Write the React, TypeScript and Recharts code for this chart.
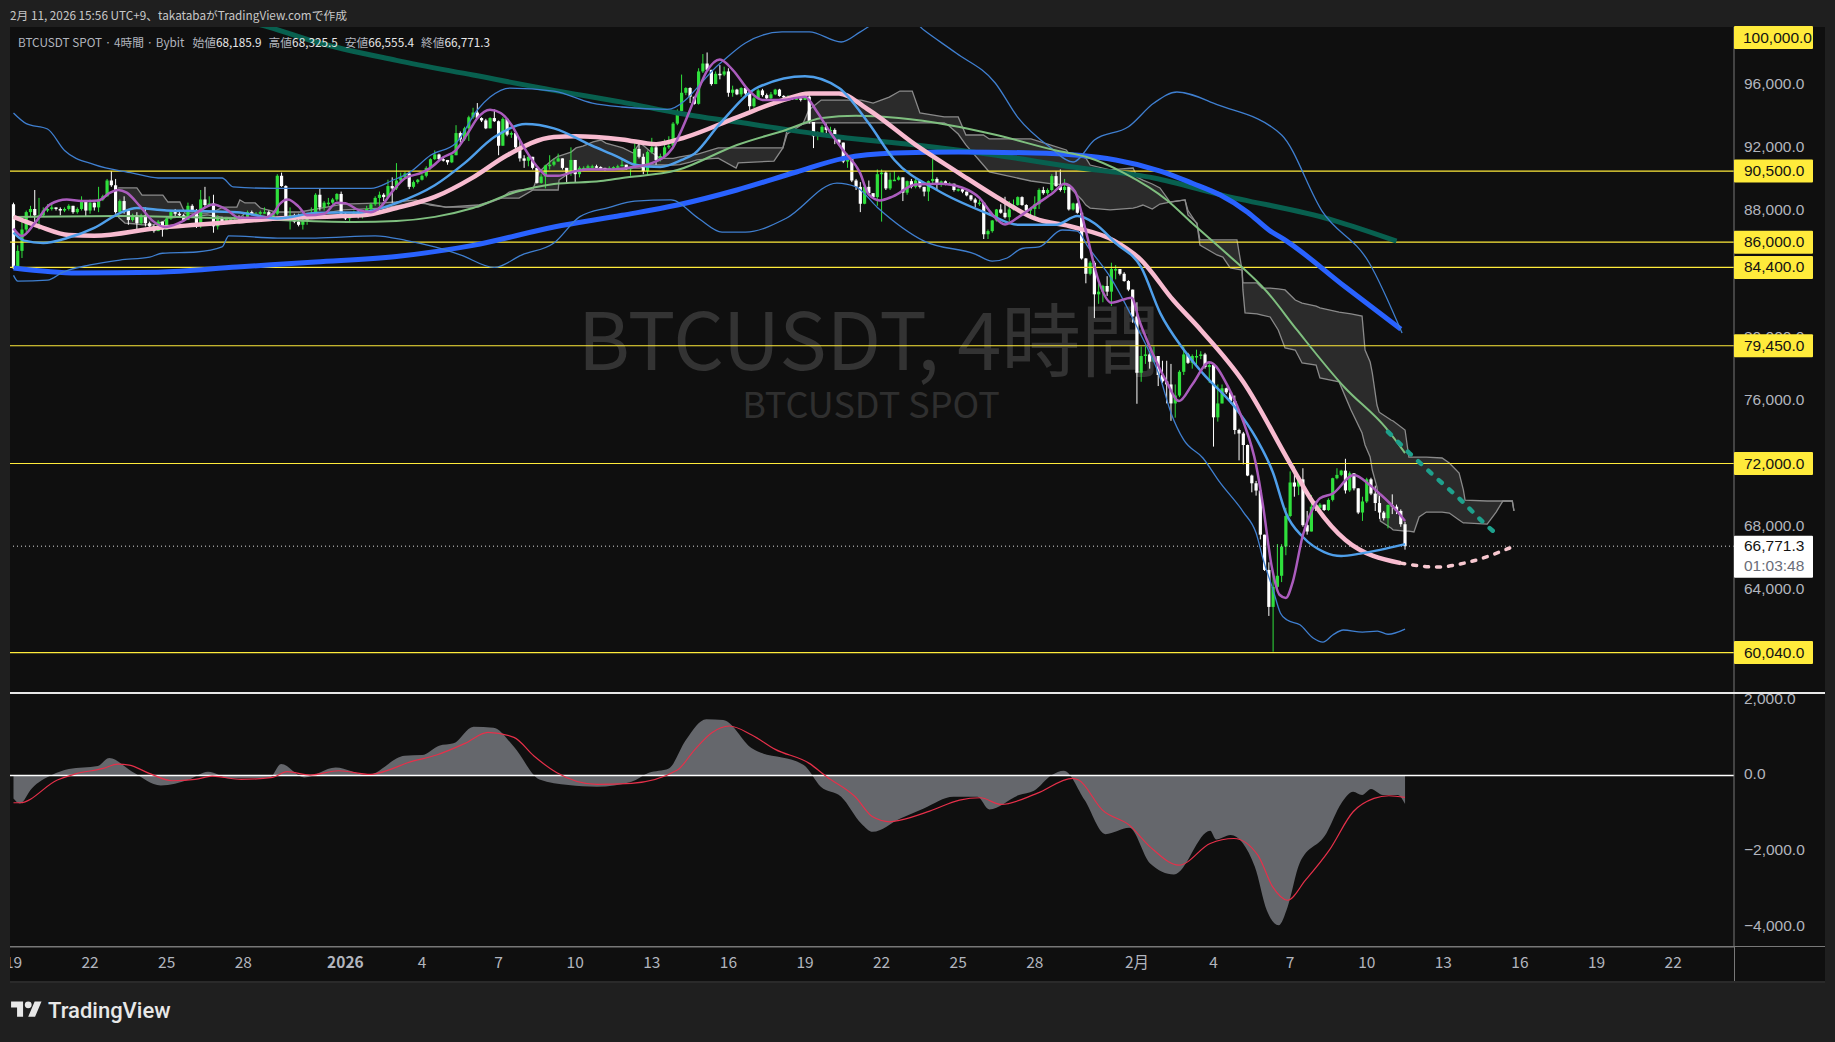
import { Area, Bar, ComposedChart, Line, ReferenceLine, XAxis, YAxis } from 'recharts'

// 4h candles in hundreds of USDT, index 0 = Dec 19 00:00
const candleClose = [
  843.5, 854.5, 868, 879, 881, 877, 877, 880, 881, 882, 881, 880, 881, 883, 879, 881, 886, 880, 885, 882,
  887, 889, 899, 896, 879, 886, 880, 874, 877, 872, 877, 872, 870, 867, 873, 868, 875, 879, 878, 877,
  874, 883, 880, 871, 887, 883.5, 884.5, 870, 875, 873, 875, 875, 876, 875, 876, 879, 878, 878, 879, 879,
  876, 878, 902, 895.5, 875.5, 877, 873, 871, 874, 876, 877, 890, 882, 885, 885, 887, 890.5, 878, 875, 877,
  879, 876, 879, 881, 884, 888, 890, 888.5, 895.5, 894, 899, 901, 903.5, 895, 898, 899.5, 902, 907, 912.5, 915.5,
  912.5, 912, 910.5, 915, 929, 925, 932, 939, 942, 938.5, 937, 932, 938.5, 936.5, 921, 938, 928, 929, 920, 913,
  911.5, 914, 907, 897.5, 901.5, 908.5, 909, 911, 913, 907, 904, 912, 903, 907, 907, 908, 908, 907.5, 907, 906,
  907, 907.5, 908, 909, 907, 907, 919, 914, 905, 917, 920, 912, 914.5, 920, 921, 935, 943, 954.5, 957.5, 952,
  947.5, 968, 973, 969, 960, 966.5, 966, 968, 954.5, 956.5, 953.5, 957.5, 954, 946, 951, 956, 953, 951, 953.5, 956.5,
  952.5, 952, 952, 950.5, 951, 950, 952, 936, 927, 929, 933, 931, 931, 926, 923, 911, 915, 899, 895, 884.3,
  895, 891, 888.5, 903, 904, 894, 899.5, 899.5, 901, 891.3, 898.6, 895, 899, 895, 892, 898.6, 900, 897, 898.5, 897,
  897, 893, 893.5, 892, 889.6, 887, 885, 885, 865, 867, 873.7, 880.7, 878.6, 875.8, 880.7, 883.5, 888.5, 883.5, 880, 881,
  884, 893, 891, 893, 901.8, 895.5, 893, 895, 880.7, 884.5, 878.6, 849.7, 840, 847, 827, 828.7, 832.3, 828.7, 843, 843,
  840, 835.4, 830, 813, 777.4, 788, 789, 784.4, 788, 776, 772, 770, 758, 763, 778, 789, 783.7, 788, 788, 789,
  781, 782.3, 749.2, 758, 767.6, 765, 759.6, 741.2, 739, 731.7, 712.4, 707.5, 702.9, 675, 652.7, 629.3, 642, 649, 667.5, 686.8,
  708, 705.4, 710, 681, 677, 692.7, 692, 694, 690.6, 697, 710.7, 712.8, 715.5, 703, 713.8, 704.3, 689, 696, 710, 701,
  695, 689, 685.4, 693.8, 692.7, 690, 681.6, 667.7,
]
const candleHigh = [
  885, 858, 874, 880, 883, 893, 888, 882, 884, 885, 882, 882, 882, 884, 883, 882, 889, 886, 887, 885,
  895, 890, 900, 905, 900, 887, 889, 881, 878, 879, 878, 882, 873, 871, 874, 873, 876, 880, 881, 879,
  878, 885, 884, 881, 893, 895, 889, 890, 877, 876, 876, 876, 877, 877, 877, 880, 880, 879, 880, 882,
  880, 879, 903, 904, 896, 882, 878, 878, 875, 877, 882, 891, 894, 886, 888, 888, 891, 892, 879, 878,
  880, 880, 880, 883, 885, 889, 892, 891, 899.5, 901, 910, 904, 904.5, 905, 899, 900, 903, 908, 913, 918,
  916, 914, 912, 916, 934, 930, 933, 940, 945, 948, 939, 938, 939, 944, 937, 939, 938, 930, 929, 925,
  915, 916, 914, 907, 903, 909, 915, 913, 916, 913, 907, 920, 912, 908, 908, 909, 909, 909, 908, 907,
  908, 908, 909, 912, 909, 908, 924, 924, 916, 918, 926, 921, 916, 925, 927, 936, 944, 966, 958, 958,
  952, 970, 979, 980, 969, 968, 972, 971, 970, 959, 957, 958, 959, 955, 952, 957, 957, 954, 955, 957,
  957, 953, 953, 952, 952, 951, 955, 954, 936, 930, 934, 935, 933, 932, 927, 923, 916, 915, 900, 898,
  896, 899, 891, 906, 906, 905, 904, 905, 902, 901, 899, 900, 900, 899, 895, 899, 912.8, 901, 899, 899,
  898, 897, 894, 894, 892, 890, 888, 887, 885, 868, 874, 881, 884, 888.7, 886, 887, 889, 889, 884, 882,
  889, 894, 895, 894, 903, 905, 906, 900, 895, 885, 885, 879, 850, 848, 848, 834, 833, 838.5, 847, 845.5,
  843, 841, 836, 830, 822, 794, 794, 791, 794, 788, 785, 785, 783, 770, 779, 794, 790, 789, 792, 791,
  790, 784, 783, 770, 770, 768, 766, 763, 742, 740, 732, 713, 709, 703, 675, 657.5, 651, 669, 669, 692,
  715, 718, 711, 717, 690, 700, 696, 695, 694, 698, 711, 717, 716, 723, 715, 714, 704, 699, 711, 711,
  706, 699.7, 690, 694, 700.5, 694, 691, 683.2,
]
const candleLow = [
  843, 843, 850, 866, 876, 870, 868, 876, 879, 880, 880, 877, 879, 880, 878, 878, 880, 876, 878, 880,
  879, 886, 889, 895, 878, 878, 878, 871, 873, 866, 871, 870, 868, 866, 867, 863.5, 868, 874, 876, 876,
  873, 874, 879, 869, 869, 882, 883, 866, 868, 872, 872, 874, 874, 874, 873, 875, 877, 877, 877, 878,
  875, 874, 877, 895, 875, 868, 872, 870, 868, 871, 875, 876, 880, 880, 883, 884, 886, 877, 874, 873,
  876, 875, 875, 878, 880, 883, 883, 886, 888, 885, 893, 898, 900, 893.5, 894, 897, 899, 901, 906, 912,
  912, 911, 909, 910, 915, 923, 924, 924, 938, 938, 936, 931.5, 932, 936, 915, 921, 927, 926, 917, 911,
  907, 908, 906, 897, 897, 894, 906, 908, 911, 906, 897, 902, 898, 901, 906, 907, 907, 907, 906, 905,
  906, 906, 907, 908, 906, 902, 907, 913, 903, 902.5, 916, 909, 911, 914, 919, 920, 934, 942, 953, 948,
  947, 947, 967, 968, 959, 960, 963, 965, 952, 952, 953, 952, 953, 943, 945, 950, 952, 950, 950, 953,
  952, 951, 951, 950, 950, 949, 950, 935, 919.5, 924.5, 928, 928, 929, 922, 921, 910, 907, 898, 893, 879,
  884, 890, 888, 883, 873, 893, 893, 899, 899, 886, 890, 894, 894, 894, 889, 886, 897, 893, 895, 896,
  896, 892, 892, 891, 889, 886, 882, 883, 862, 862, 866, 873, 878, 875, 873, 880, 883, 883, 879, 876,
  874, 881, 890, 890, 892, 895, 892, 891, 880, 880, 878, 849, 834, 839, 812, 821, 822, 826, 819.6, 836.5,
  839, 835, 829, 809, 757.8, 771.7, 783, 780, 784, 769, 771, 758, 747, 749, 762, 776, 783, 780, 782, 786,
  780, 771, 730.7, 746.5, 758, 764, 758, 738.5, 722, 719.5, 712, 701.8, 699.7, 672, 652, 623.6, 601, 640, 645, 662,
  686, 699, 700, 680, 675, 677, 690, 691, 690, 690, 696, 710, 712, 701, 702, 703, 688, 683.7, 695, 700,
  690, 685, 684, 679, 688, 688, 680, 665.5,
]

// indicator readings: [bar index, hundreds of USDT]
const pinkMa = [[0,876],[6,870],[13,864.5],[19,864],[34,869],[43,871],[52.5,873],[62,875],[71,876],[82,877],[90,881.6],[99,888.6],[108,901],[116,915],[127,926.5],[132,927],[143,925],[151,922],[158,926.5],[170,939],[181,950],[187,954],[194,954],[201,943.6],[212,921.5],[222,904],[231,888.6],[240,875],[249,869.6],[258.6,861],[265,848.7],[272.5,823.4],[279,804.5],[289,771.6],[300,720],[305,697],[313,671.6],[326,657]]
const pinkForecast = [[326,657],[334.5,654.5],[342,657.7],[352,667]]
const blueMa = [[0,866],[2.5,861],[7,859.5],[12.6,862.6],[19,869],[25,878.4],[29,881.6],[36,880],[43,879.7],[52.5,879],[62,875],[71,878.4],[82,879],[90,884.8],[99,896],[106,910],[113,926.5],[120.4,934.7],[127,932],[136,921],[142,914],[146,909],[152,907.6],[157,912],[160,916],[166,935],[175,958],[186,965],[194,957.5],[201,935],[207,912],[217,893],[229,878],[236,871],[245,871],[250,876.5],[254,872],[259,859.5],[265,844],[269.5,815],[275,792],[279.5,777],[287,755.7],[292,736],[296,714],[299,688.7],[303,673.5],[308,664],[312,661.5],[316.5,663],[327,669]]
const purpleMa = [[0,868.7],[2,863.9],[5,872],[8.6,883.9],[12.5,887],[16,886],[20,886.4],[22.7,891.3],[24.6,893],[26.6,891.3],[29.7,882.8],[32.8,873.3],[35.6,869.6],[39,872.3],[43,878.6],[47,883.9],[50,880.7],[53,875.5],[58.6,875.5],[61,878],[62.5,884],[64.5,887],[67,882.5],[69,877],[73,878],[76,885],[78,884.6],[81,880.4],[84,879],[86.5,883],[89,892],[92,900.4],[96,904],[97.8,906.7],[100.9,913.5],[104,918.3],[107,930],[109,938.4],[112,943.8],[114.5,941.7],[117,934.3],[119.6,921.7],[122.7,909],[125.5,902],[128,902],[132,904.8],[135,906],[140,906],[145,907.3],[150,910],[154.9,919.6],[157,931],[160.5,953.5],[162.9,968],[166,975.6],[169,969],[172.9,955.6],[176,950],[180.7,950],[186,952],[188.7,943],[191.8,930],[195,918],[198.9,904],[201,890],[203.6,886.4],[206.7,889],[212,896.5],[217.7,897],[223,894.4],[227,888],[230,877.6],[233,871.2],[236.5,876.5],[240.4,884],[244.3,891.3],[247,897],[249.4,892.3],[252,867],[255,835.4],[258,821.7],[262.7,824.9],[264.6,810],[267.8,789],[270.9,772],[273.9,759.5],[277,770],[281,784],[285.8,766.5],[289,746.5],[292,719],[293.6,693.8],[295.6,655.9],[297.5,637],[299,635],[300.6,645],[303,674.8],[305.4,691.7],[307,698],[310,701],[315,712.8],[318.7,706.4],[321,701],[324.2,692.7],[327,683.7]]
const greenMa = [[0,876],[25,876.5],[52,875],[80,872.8],[90,873.4],[99,876],[108,881.6],[118,891.7],[127,896.8],[138,898.7],[143,900.6],[156,905.6],[170,921.5],[181.5,931],[190,938.5],[198,940],[208,938.5],[220,934],[231,927.8],[245,918],[252,914],[261,903.7],[271,886.7],[277,872],[285,853],[294.6,828.5],[301.6,804.5],[312.7,768.4],[322.5,742.5],[327,726.6]]
const tealForecast = [[323,740],[328,726.6],[333.6,712.7],[339.7,698],[345.5,682.4],[348.5,675.4]]
const royalMa = [[0,843.7],[15,840.5],[34,841],[52.5,844.3],[71,847.5],[90,851],[108,858],[127,869.6],[143,877],[156,883.5],[170,893],[184,904.4],[195,913],[207,916.4],[222,917],[240,916.4],[259,912],[269.5,905],[277,897.3],[283.6,889.8],[290,879],[295,867.7],[299,861],[313,831.6],[326,805]]
const tealMa = [[50,1003],[60,996],[71,986.6],[90,975],[108,965.7],[127,956],[143,948.6],[156,941.7],[175,934],[194,926.5],[212,921.5],[231,915],[249,907.5],[268,900.6],[284,889.8],[310,874],[325,860.7]]
const bandUpper = [[0,941.7],[3,935],[8,931.6],[12,918],[19,909],[28,903.7],[34,900.6],[49,900.6],[51.6,895],[62,894],[84,894],[89,899],[93,904],[98,915],[104,922.7],[109,943.6],[112,951.8],[116.7,957.5],[127,955.6],[136,948],[143,945.5],[153.6,944],[166,973],[172,986],[180.6,993],[187,993],[194.5,986.6],[199,993],[203.6,1000.5],[209.5,1003.7],[214,994],[221.5,979.6],[230.7,960.7],[236,939],[243.6,920],[249,910.7],[254,924.6],[262,933],[268,948],[273.4,955],[283,946.8],[298,927.8],[307.5,879.7],[318.6,846.8],[326.3,802.5]]
const bandLower = [[0,839],[1,835.4],[8,836],[11.6,841],[18,845.6],[25,848.7],[32,850.6],[35,853],[43,853.8],[49,857],[50.6,864],[62,862.6],[71,862.6],[85,864],[92.4,861],[99,857],[105,852],[113,844],[119.5,852],[127,859.5],[133,876],[140,882],[146,886],[154.5,886.7],[161,875],[166.5,866.4],[172,866.4],[181.5,875],[193.5,897.4],[198,895],[203,882],[214,860.7],[226,852.5],[230,848],[233.5,850],[237,856],[241,857],[246.4,867.7],[250,867],[252.5,857],[257.7,838],[264,806.3],[269.4,774.7],[272,752],[275,734.9],[279.5,723.5],[283.5,708],[289,689.3],[292,676],[293.7,659],[296,640],[297.7,625.5],[299.3,621],[302.3,618],[305.4,609.6],[307.7,607],[310,611.5],[312.5,614.7],[317,613.4],[320.5,614],[323,612],[327,615.3]]

// ichimoku cloud: bar index, upper edge, lower edge
const cloudIndex = [24.6,26.2,29,30.2,32.8,35.1,36.3,39.1,40.3,45.5,46.9,49.2,52.5,53.2,54.4,56.8,58,61.7,67.3,77.4,86.8,89.9,94.6,97.9,101.6,109.2,114.6,116.5,118.8,122.1,123.5,126.3,128,128.2,131,132.2,133.8,136.2,138,139.2,143.2,145.6,147.2,149.6,151.9,155,156.6,159,160.6,165.6,169.8,170.3,178.7,180.8,181.8,185.5,186.9,189.8,199.2,202,205.8,208.3,211.2,213,218.7,219.6,222,223.8,227.9,229.3,239.1,243.6,247.4,248.3,251.1,252,253,257.7,263.1,264,265.4,267.6,269.4,271.8,275.3,276,278.1,278.8,282.8,284.2,285.9,287.5,288.7,288.9,289.4,292.2,293.4,295.3,297.2,298.8,301.2,302.8,306.1,307,311.5,314.3,316.9,317.6,318.8,319.3,320.4,320.9,321.2,323.7,324.2,327,327.9,329.1,330.3,332,335.7,337.4,339.7,340.7,341.1,346.3,348.4,350,352.2,352.6]
const cloudTop = [894.3,894.3,894.3,889.8,889.8,889.8,885.4,885.4,878.4,878.4,879.1,882.2,882.2,886.7,884.8,884.8,881.6,879.1,879.1,884.1,884.8,885.4,886.7,883.5,882.2,883.5,887.9,891.7,893,893.6,904.4,911.3,914.5,914.5,917,919.6,920.8,923.4,924.6,922.7,919.6,916.4,923,917.5,913,913,914,915,915.5,919.6,919.6,919.6,919.6,919.6,931,934.7,943.6,949.9,949.9,948,951.8,955.6,955.6,941.7,939.2,939.2,939.2,927.8,927.8,925.3,925.3,921.5,918.3,915.1,913.9,913.2,908.8,905.7,906.9,901.2,899.3,896.8,894.3,885.4,886.7,877.2,872.1,861.4,861.4,861.4,861.4,861.4,842.4,834.2,834.2,834.2,831,831,830.4,829.8,823.4,821.5,819.6,818.4,815.8,814.6,813.3,791.8,784.2,777.3,757,752.6,751.9,747.5,746.9,741.2,724.1,724.1,724.1,724.1,723.5,720.3,714,703.3,696.9,696.3,696.3,696.3,696.3,690]
const cloudBottom = [875.9,872.1,871.5,870.9,870.9,872.8,875.3,875.9,875.9,877.2,876.6,875.9,875.3,875.3,878.4,877.8,876.6,875.3,875.3,880.4,881.6,882.9,884.8,884.1,882.2,882.2,887.9,887.9,887.9,893,893,893,893,899.3,904.4,905,906.3,906.3,906.3,906.3,905.7,906.9,906.9,908.8,908.8,908.8,909,910.7,912,913.2,906.9,910.1,911.3,919.6,928.4,934.7,935.4,935.4,935.4,935.4,935.4,935.4,935.4,935.4,935.4,934.1,928.4,921.5,908.8,904.4,898.7,897,896.2,894.3,886.7,883.5,881.6,880.4,881.6,882.2,883.5,881,884.1,885.4,886.7,880,871.5,858.2,851.9,850.6,843.7,843,842.4,829.8,815.2,814.6,813.9,812.7,804.5,793.1,791.8,783.6,782.3,774.1,771.6,753.9,739.3,731.7,724.1,715.9,705.1,693.8,683.6,679.2,678,677.3,677.3,676.7,686.2,689.3,689.3,688.7,684.3,682.4,682.4,681.7,689.3,696.3,696.3,690]

// macd pane: [bar index, value]
const macdLine = [[0,-608],[1.5,-740],[4.3,-343],[9,9],[13,167],[19.8,247],[22.5,458],[27.9,97],[34.6,-264],[41.3,-106],[45.7,97],[50.8,-79],[60.2,-62],[62.9,299],[68.3,-53],[75.7,211],[83.2,9],[91.9,520],[96,537],[100,784],[103.4,845],[108.1,1286],[112.8,1259],[117.6,757],[123.6,-106],[130.4,-255],[137.1,-299],[145.2,-167],[149.3,70],[154,185],[158,933],[162.8,1480],[166.8,1462],[173.5,713],[185.7,273],[189.7,-299],[194.5,-564],[199.2,-1268],[201.9,-1488],[208.4,-1136],[213.9,-872],[220.9,-564],[226.5,-564],[229.3,-898],[236.3,-520],[239.8,-405],[244,9],[246.8,123],[251.7,-652],[256.6,-1550],[262.2,-1383],[267.1,-2325],[272.7,-2616],[281.2,-1462],[282.6,-1691],[286,-1576],[291.7,-2413],[294.5,-3558],[297.3,-3954],[299.4,-3470],[302.2,-2325],[308.5,-1532],[312,-740],[314.8,-431],[316.9,-520],[319,-361],[321.8,-520],[325.3,-520],[327,-757]]
const macdSignal = [[0,-722],[1.5,-722],[10.3,-123],[14.4,35],[21.1,185],[24.5,299],[27.2,273],[31.9,53],[37.3,-141],[42.7,-106],[46.7,-18],[53.5,-106],[60.9,-53],[64.3,97],[69.7,9],[76.4,123],[83.9,26],[88.6,159],[92.6,335],[99.4,537],[106.1,845],[111.5,1136],[117.6,1004],[122.3,511],[127.7,70],[137.1,-238],[145.2,-211],[156,141],[160,669],[164.1,1127],[168.2,1303],[173.5,1066],[179,687],[187,317],[191.1,-35],[197.8,-564],[201.9,-1092],[206,-1224],[208.4,-1180],[215.3,-942],[222.3,-652],[227.2,-590],[232.1,-766],[240.5,-476],[248.9,-79],[250.3,-123],[255.9,-916],[262.2,-1312],[267.1,-1885],[273.9,-2369],[281.2,-1797],[286.8,-1665],[292.4,-2105],[295.9,-2942],[299.4,-3294],[303.6,-2765],[309.2,-1973],[314.8,-960],[319.7,-608],[323.2,-537],[327,-581]]

const priceLevels = [90500, 86000, 84400, 79450, 72000, 60040]
const priceTicks = [96000, 92000, 88000, 80000, 76000, 68000, 64000]
const macdTicks = [2000, 0, -2000, -4000]
const lastPrice = 66771.3
const timeTicks = [0, 18, 36, 54, 78, 96, 114, 132, 150, 168, 186, 204, 222, 240, 264, 282, 300, 318, 336, 354, 372, 390]
const timeLabels = ['19', '22', '25', '28', '2026', '4', '7', '10', '13', '16', '19', '22', '25', '28', '2月', '4', '7', '10', '13', '16', '19', '22']

const FONT = '"Liberation Sans", Arial, sans-serif'
const JP = '"Noto Sans CJK JP", "Liberation Sans", sans-serif'
const AXIS_TEXT = '#b2b5be'
const YELLOW = '#ffeb3b'
const xDomain = [-0.82, 404.3]

const toPoints = (rows: number[][]) => rows.map(([i, v]) => ({ i, v: v * 100 }))
const toMacd = (rows: number[][]) => rows.map(([i, v]) => ({ i, v }))

const candles = candleClose.map((c, i) => {
  const o = (i === 0 ? 884 : candleClose[i - 1]) * 100
  const close = c * 100
  const high = Math.max(candleHigh[i] * 100, o, close)
  const low = Math.min(candleLow[i] * 100, o, close)
  return { i, open: o, close, high, low, range: [low, high] }
})
const cloud = cloudIndex.map((i, n) => ({ i, range: [cloudBottom[n] * 100, cloudTop[n] * 100] }))

function Candle(props: any) {
  const { x, y, width, height, payload } = props
  if (!payload || !(height > 0)) return null
  const k = height / (payload.high - payload.low)
  const up = payload.close >= payload.open
  const color = up ? '#2fe03c' : '#ffffff'
  const top = y + (payload.high - Math.max(payload.open, payload.close)) * k
  const bodyH = Math.max(Math.abs(payload.close - payload.open) * k, 1.5)
  const cx = x + width / 2
  return (
    <g>
      <line x1={cx} x2={cx} y1={y} y2={y + height} stroke={color} strokeWidth={1} />
      <rect x={cx - 1.6} y={top} width={3.2} height={bodyH} fill={color} />
    </g>
  )
}

const fmt = (v: number) => v.toLocaleString('en-US', { minimumFractionDigits: 1, maximumFractionDigits: 1 })

function Tag({ y, text }: { y: number; text: string }) {
  return (
    <g>
      <rect x={1724} y={y - 11.5} width={79} height={23} fill={YELLOW} rx={1} />
      <text x={1734} y={y + 5} fontSize={15.5} fontFamily={FONT} fill="#131313">{text}</text>
    </g>
  )
}

function PriceTick({ y, payload }: any) {
  const v = payload.value
  if (priceLevels.includes(v)) return <Tag y={y} text={fmt(v)} />
  if (v === lastPrice) {
    return (
      <g>
        <rect x={1724} y={y - 10.5} width={79} height={42} fill="#ffffff" rx={1} />
        <text x={1734} y={y + 5} fontSize={15.5} fontFamily={FONT} fill="#131313">{fmt(v)}</text>
        <text x={1734} y={y + 24.5} fontSize={15.5} fontFamily={FONT} fill="#6a6d78">01:03:48</text>
      </g>
    )
  }
  return <text x={1734} y={y + 4.5} fontSize={15.5} fontFamily={FONT} fill={AXIS_TEXT}>{fmt(v)}</text>
}

function MacdTick({ y, payload }: any) {
  return <text x={1734} y={y + 4} fontSize={15.5} fontFamily={FONT} fill={AXIS_TEXT}>{fmt(payload.value).replace('-', '−')}</text>
}

function TimeTick({ x, y, payload }: any) {
  const n = timeTicks.indexOf(payload.value)
  const label = timeLabels[n]
  return (
    <text x={x} y={y + 13} textAnchor="middle" fontSize={15.5} fontFamily={JP} fontWeight={label === '2026' ? 700 : 400} fill={AXIS_TEXT}>
      {label}
    </text>
  )
}

function Logo() {
  return (
    <svg width={31} height={24} viewBox="0 0 36 28" style={{ position: 'absolute', left: 11, top: 998 }}>
      <path fill="#e8e8e8" d="M14 22H7V11H0V4h14v18zM28 22h-8l7.5-18h8L28 22z" />
      <circle fill="#e8e8e8" cx="20" cy="8" r="4" />
    </svg>
  )
}

const abs = (left: number, top: number, width: number, height: number, background: string) => ({
  position: 'absolute' as const, left, top, width, height, background,
})

export default function App() {
  const priceLegend = ['始値', '68,185.9', '高値', '68,325.5', '安値', '66,555.4', '終値', '66,771.3']
  return (
    <div style={{ ...abs(0, 0, 1835, 1042, '#1f1f1f'), overflow: 'hidden' }}>
      <div style={abs(10, 27, 1815, 955, '#0f0f0f')} />

      <div style={{ position: 'absolute', left: 0, width: 1738, top: 296, textAlign: 'center', fontFamily: JP, fontSize: 79.5, lineHeight: '80px', color: '#333333', whiteSpace: 'nowrap' }}>
        BTCUSDT, 4時間
      </div>
      <div style={{ position: 'absolute', left: 0, width: 1742, top: 383, textAlign: 'center', fontFamily: JP, fontSize: 36, lineHeight: '38px', color: '#2f2f2f' }}>
        BTCUSDT SPOT
      </div>

      <div style={{ position: 'absolute', left: 10, top: 27 }}>
        <ComposedChart width={1815} height={666} data={candles} margin={{ top: 0, right: 0, bottom: 0, left: 0 }}>
          <XAxis dataKey="i" type="number" domain={xDomain} allowDataOverflow hide />
          <YAxis
            orientation="right"
            width={91}
            domain={[57485, 99610]}
            allowDataOverflow
            ticks={[...priceTicks, ...priceLevels, lastPrice]}
            interval={0}
            tick={PriceTick}
            tickLine={false}
            axisLine={{ stroke: '#787878' }}
          />
          <Area data={cloud} dataKey="range" type="linear" stroke="#8a8a8a" strokeWidth={1.3} fill="#2b2b2b" fillOpacity={1} dot={false} activeDot={false} isAnimationActive={false} />
          {priceLevels.map((v) => (
            <ReferenceLine key={v} y={v} stroke={YELLOW} strokeWidth={1.2} />
          ))}
          <ReferenceLine y={lastPrice} stroke="#d8d8d8" strokeWidth={1} strokeDasharray="1 3" />
          <Line data={toPoints(tealMa)} dataKey="v" type="monotone" stroke="#08604f" strokeWidth={5} dot={false} activeDot={false} isAnimationActive={false} />
          <Line data={toPoints(royalMa)} dataKey="v" type="monotone" stroke="#2962ff" strokeWidth={5} dot={false} activeDot={false} isAnimationActive={false} />
          <Line data={toPoints(bandUpper)} dataKey="v" type="monotone" stroke="#3f7fd0" strokeWidth={1.3} dot={false} activeDot={false} isAnimationActive={false} />
          <Line data={toPoints(bandLower)} dataKey="v" type="monotone" stroke="#3f7fd0" strokeWidth={1.3} dot={false} activeDot={false} isAnimationActive={false} />
          <Line data={toPoints(greenMa)} dataKey="v" type="monotone" stroke="#7fbf7f" strokeWidth={2} dot={false} activeDot={false} isAnimationActive={false} />
          <Line data={toPoints(pinkMa)} dataKey="v" type="monotone" stroke="#f8bbd0" strokeWidth={4.5} dot={false} activeDot={false} isAnimationActive={false} />
          <Bar dataKey="range" barSize={3} shape={Candle} isAnimationActive={false} />
          <Line data={toPoints(blueMa)} dataKey="v" type="monotone" stroke="#4f9fea" strokeWidth={2.5} dot={false} activeDot={false} isAnimationActive={false} />
          <Line data={toPoints(purpleMa)} dataKey="v" type="monotone" stroke="#ab5cbd" strokeWidth={2.5} dot={false} activeDot={false} isAnimationActive={false} />
          <Line data={toPoints(pinkForecast)} dataKey="v" type="monotone" stroke="#f8c8d0" strokeWidth={3.5} strokeDasharray="4 8" strokeLinecap="round" dot={false} activeDot={false} isAnimationActive={false} />
          <Line data={toPoints(tealForecast)} dataKey="v" type="linear" stroke="#1ea08c" strokeWidth={4.5} strokeDasharray="4 10" strokeLinecap="round" dot={false} activeDot={false} isAnimationActive={false} />
        </ComposedChart>
      </div>

      <div style={{ position: 'absolute', left: 10, top: 693 }}>
        <ComposedChart width={1815} height={289} margin={{ top: 0, right: 0, bottom: 0, left: 0 }}>
          <XAxis
            dataKey="i"
            type="number"
            domain={xDomain}
            allowDataOverflow
            ticks={timeTicks}
            interval={0}
            tick={TimeTick}
            tickLine={false}
            axisLine={{ stroke: '#787878' }}
            height={35}
          />
          <YAxis
            orientation="right"
            width={91}
            domain={[-4528, 2174]}
            allowDataOverflow
            ticks={macdTicks}
            interval={0}
            tick={MacdTick}
            tickLine={false}
            axisLine={{ stroke: '#787878' }}
          />
          <Area data={toMacd(macdLine)} dataKey="v" type="monotone" stroke="none" fill="#65676c" fillOpacity={1} baseValue={0} dot={false} activeDot={false} isAnimationActive={false} />
          <ReferenceLine y={0} stroke="#ffffff" strokeWidth={1.5} />
          <Line data={toMacd(macdSignal)} dataKey="v" type="monotone" stroke="#e6304a" strokeWidth={1.2} dot={false} activeDot={false} isAnimationActive={false} />
        </ComposedChart>
      </div>

      <div style={abs(10, 692, 1815, 1.5, '#e8e8e8')} />
      <div style={abs(10, 946, 1815, 1, '#787878')} />
      <div style={abs(1733.5, 946, 1, 36, '#787878')} />
      <div style={abs(0, 27, 10, 955, '#1f1f1f')} />
      <div style={abs(1825, 0, 10, 1042, '#1f1f1f')} />
      <div style={abs(10, 981, 1815, 2, '#2a2a2a')} />

      <svg width={79} height={23} style={{ position: 'absolute', left: 1734, top: 26 }}>
        <rect width={79} height={23} fill={YELLOW} rx={1} />
        <text x={9} y={17} fontSize={15.5} fontFamily={FONT} fill="#131313">100,000.0</text>
      </svg>

      <div style={{ position: 'absolute', left: 10, top: 6, fontFamily: JP, fontSize: 11.75, color: '#c8c8c8', whiteSpace: 'nowrap' }}>
        2月 11, 2026 15:56 UTC+9、takatabaがTradingView.comで作成
      </div>
      <div style={{ position: 'absolute', left: 18, top: 33, fontFamily: JP, fontSize: 11.75, color: '#b2b5be', whiteSpace: 'nowrap' }}>
        <span style={{ marginRight: 8 }}>BTCUSDT SPOT · 4時間 · Bybit</span>
        {priceLegend.map((t, n) =>
          n % 2 === 0 ? <span key={n}>{t}</span> : <span key={n} style={{ color: '#e6e6e6', marginRight: 7 }}>{t}</span>,
        )}
      </div>

      <Logo />
      <div style={{ position: 'absolute', left: 48, top: 998, fontFamily: '"Roboto", sans-serif', fontWeight: 500, fontSize: 22, lineHeight: '26px', color: '#e8e8e8' }}>
        TradingView
      </div>
    </div>
  )
}
